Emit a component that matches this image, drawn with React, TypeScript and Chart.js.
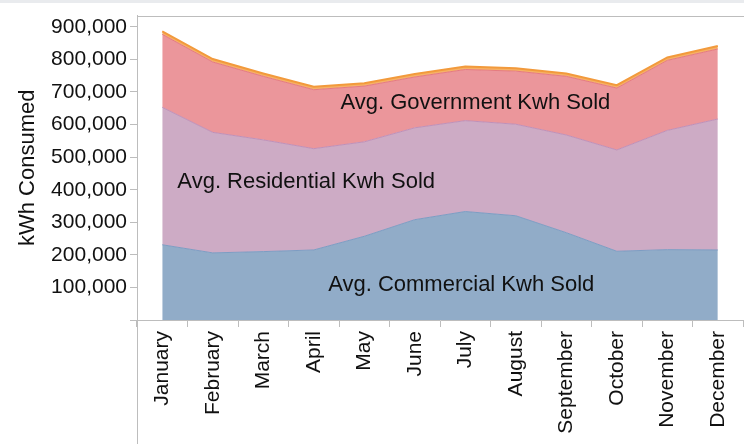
import React, { useEffect, useRef } from "react";
import { Chart, registerables } from "chart.js";

Chart.register(...registerables);

const months = [
  "January", "February", "March", "April", "May", "June",
  "July", "August", "September", "October", "November", "December",
];
const commercial = [231000, 206000, 210000, 215000, 257000, 308000, 333000, 320000, 268000, 211000, 216000, 215000];
const residential = [422000, 370000, 343000, 311000, 290000, 282000, 279000, 281000, 300000, 311000, 366000, 402000];
const government = [224000, 216000, 195000, 181000, 171000, 156000, 157000, 163000, 180000, 190000, 215000, 215000];
const other = [9000, 9000, 9000, 9000, 9000, 9000, 9000, 9000, 9000, 9000, 9000, 9000];
const yTicks = [0, 100000, 200000, 300000, 400000, 500000, 600000, 700000, 800000, 900000];

const seriesNames = ["Avg. Commercial Kwh Sold", "Avg. Residential Kwh Sold", "Avg. Government Kwh Sold", "Avg. Other Kwh Sold"];
// label anchors in data space (category index, value)
const areaLabels = [
  { text: "Avg. Government Kwh Sold", x: 6.2, y: 667000 },
  { text: "Avg. Residential Kwh Sold", x: 2.85, y: 424000 },
  { text: "Avg. Commercial Kwh Sold", x: 5.92, y: 107000 },
];

const FONT = "'Liberation Sans', Arial, Helvetica, sans-serif";
const GRAY = "#bdbdbd";

const decorPlugin = {
  id: "decor",
  beforeDraw(chart: any) {
    const { ctx, width } = chart;
    ctx.save();
    ctx.fillStyle = "#e9ebee";
    ctx.fillRect(0, 0, width, 3);
    ctx.restore();
  },
  afterDraw(chart: any) {
    const { ctx, chartArea, width, height } = chart;
    ctx.save();
    ctx.strokeStyle = GRAY;
    ctx.lineWidth = 1;
    ctx.beginPath();
    const lx = Math.round(chartArea.left) + 0.5;
    ctx.moveTo(lx, chartArea.top);
    ctx.lineTo(lx, height);
    const ty = Math.round(chartArea.top) + 0.5;
    ctx.moveTo(chartArea.left, ty);
    ctx.lineTo(width, ty);
    ctx.stroke();

    const xs = chart.scales.x;
    const ys = chart.scales.y;
    ctx.fillStyle = "#111";
    ctx.font = `22px ${FONT}`;
    ctx.textAlign = "center";
    ctx.textBaseline = "middle";
    for (const l of areaLabels) {
      const px = xs.getPixelForValue(l.x);
      const py = ys.getPixelForValue(l.y);
      ctx.fillText(l.text, px, py);
    }
    ctx.restore();
  },
};

export default function App() {
  const ref = useRef<HTMLCanvasElement | null>(null);
  useEffect(() => {
    if (!ref.current) return;
    const chart = new Chart(ref.current, {
      type: "line",
      data: {
        labels: months,
        datasets: [
          {
            label: seriesNames[0],
            data: commercial,
            fill: "origin",
            backgroundColor: "#91acc8",
            borderColor: "#7d9cc2",
            borderWidth: 1,
            pointRadius: 0,
            tension: 0,
          },
          {
            label: seriesNames[1],
            data: residential,
            fill: "-1",
            backgroundColor: "#cdabc5",
            borderColor: "#bf90b8",
            borderWidth: 1,
            pointRadius: 0,
            tension: 0,
          },
          {
            label: seriesNames[2],
            data: government,
            fill: "-1",
            backgroundColor: "#eb969b",
            borderColor: "#e57a80",
            borderWidth: 1,
            pointRadius: 0,
            tension: 0,
          },
          {
            label: seriesNames[3],
            data: other,
            fill: "-1",
            backgroundColor: "#f6b266",
            borderColor: "#f29a3c",
            borderWidth: 2,
            pointRadius: 0,
            tension: 0,
          },
        ],
      },
      options: {
        animation: false,
        responsive: false,
        devicePixelRatio: 1,
        layout: { padding: { top: 9, left: 0, right: 0, bottom: 0 } },
        plugins: {
          legend: { display: false },
          tooltip: { enabled: false },
        },
        scales: {
          x: {
            type: "category",
            offset: true,
            grid: { offset: true, drawOnChartArea: false, color: GRAY, tickLength: 7 },
            border: { display: true, color: GRAY },
            ticks: {
              minRotation: 90,
              maxRotation: 90,
              autoSkip: false,
              padding: 4,
              color: "#111",
              font: { family: FONT, size: 21 },
            },
            afterFit(scale: any) {
              scale.height = 124;
            },
          },
          y: {
            stacked: true,
            min: 0,
            max: 934500,
            afterBuildTicks(scale: any) {
              scale.ticks = yTicks.map((v) => ({ value: v }));
            },
            grid: { drawOnChartArea: false, color: GRAY, tickLength: 7 },
            border: { display: true, color: GRAY },
            ticks: {
              padding: 3,
              color: "#111",
              font: { family: FONT, size: 21 },
              callback: (v: any) => (Number(v) === 0 ? "" : Number(v).toLocaleString("en-US")),
            },
            title: {
              display: true,
              text: "kWh Consumed",
              color: "#111",
              font: { family: FONT, size: 22 },
              padding: { top: 15, bottom: 0 },
            },
            afterFit(scale: any) {
              scale.width = 137;
            },
          },
        },
      },
      plugins: [decorPlugin],
    });
    return () => chart.destroy();
  }, []);

  return (
    <div
      style={{
        position: "fixed",
        left: 0,
        top: 0,
        width: 744,
        height: 444,
        overflow: "hidden",
        background: "#fff",
      }}
    >
      <canvas ref={ref} width={747} height={444} style={{ width: 747, height: 444, display: "block" }} />
    </div>
  );
}
